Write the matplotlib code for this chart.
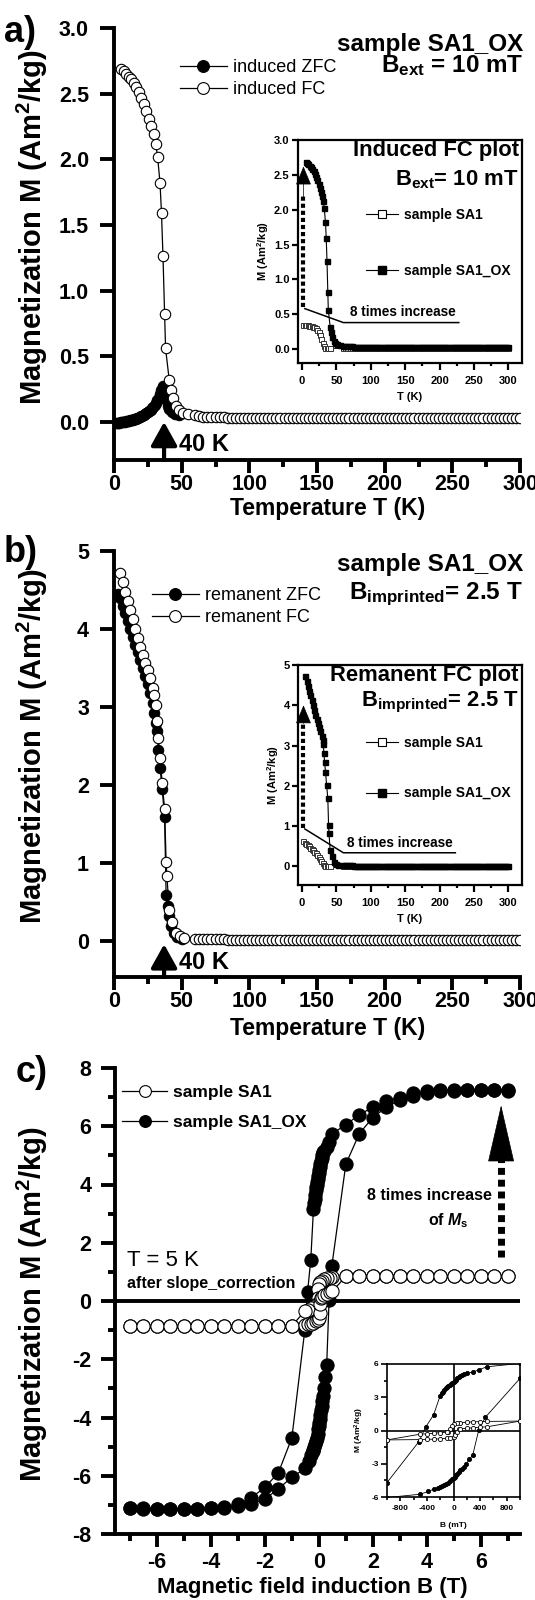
import matplotlib
matplotlib.use('Agg')
import matplotlib.pyplot as plt
from matplotlib.lines import Line2D
from matplotlib.ticker import MultipleLocator, FormatStrFormatter

plt.rcParams['font.family'] = ['Liberation Sans', 'DejaVu Sans']
plt.rcParams['font.weight'] = 'bold'
plt.rcParams['axes.labelweight'] = 'bold'
plt.rcParams['axes.unicode_minus'] = False
plt.rcParams['mathtext.fontset'] = 'custom'
plt.rcParams['mathtext.rm'] = 'Liberation Sans:bold'
plt.rcParams['mathtext.bf'] = 'Liberation Sans:bold'
plt.rcParams['mathtext.it'] = 'Liberation Sans:italic:bold'

# ---------------- common flat high-temperature grid ----------------
T_flat = [60, 63, 66, 69, 72, 75, 78, 81, 84, 87,
          90, 93, 96, 99, 102, 105, 108, 111, 114, 117,
          120, 123, 126, 129, 132, 135, 138, 141, 144, 147,
          150, 153, 156, 159, 162, 165, 168, 171, 174, 177,
          180, 183, 186, 189, 192, 195, 198, 201, 204, 207,
          210, 213, 216, 219, 222, 225, 228, 231, 234, 237,
          240, 243, 246, 249, 252, 255, 258, 261, 264, 267,
          270, 273, 276, 279, 282, 285, 288, 291, 294, 297,
          300]

# ---------------- panel a (induced, B_ext = 10 mT) ----------------
T_zfc_a = [1, 2, 3, 4, 5, 6, 7, 8, 9, 10,
           11, 12, 13, 14, 15, 16, 17, 18, 19, 20,
           21, 22, 23, 24, 25, 26, 27, 28, 29, 30,
           31, 32, 33, 34, 35, 36, 37, 38, 39, 40,
           41, 43, 45, 48]
M_zfc_a = [-0.01, -0.01, -0.008, -0.006, -0.004, -0.002, 0.0, 0.002, 0.004, 0.006,
           0.009, 0.012, 0.015, 0.018, 0.021, 0.025, 0.029, 0.033, 0.037, 0.042,
           0.047, 0.053, 0.059, 0.066, 0.074, 0.083, 0.093, 0.104, 0.117, 0.131,
           0.147, 0.165, 0.185, 0.21, 0.24, 0.275, 0.25, 0.2, 0.16, 0.12,
           0.1, 0.075, 0.06, 0.05]

T_fc_a_low = [5.5, 7.4, 9.2, 11, 12.9, 14.7, 16.6, 18.4, 20.2, 22.1,
              23.9, 25.8, 27.6, 29.4, 30.8, 32.2, 34, 35.1, 36.2, 37.4,
              38.1, 40.8, 42, 43.9, 46, 48, 51, 55]
M_fc_a_low = [2.69, 2.67, 2.65, 2.63, 2.61, 2.58, 2.55, 2.51, 2.47, 2.42,
              2.37, 2.31, 2.25, 2.19, 2.12, 2.02, 1.82, 1.59, 1.26, 0.82,
              0.56, 0.32, 0.24, 0.18, 0.12, 0.09, 0.07, 0.06]
M_fc_a_flat = [0.05, 0.045, 0.04, 0.04, 0.038, 0.036, 0.035, 0.034, 0.033, 0.032,
               0.03, 0.03, 0.03, 0.03, 0.03, 0.03, 0.03, 0.03, 0.03, 0.03,
               0.03, 0.03, 0.03, 0.03, 0.03, 0.03, 0.03, 0.03, 0.03, 0.03,
               0.03, 0.03, 0.03, 0.03, 0.03, 0.03, 0.03, 0.03, 0.03, 0.03,
               0.03, 0.03, 0.03, 0.03, 0.03, 0.03, 0.03, 0.03, 0.03, 0.03,
               0.03, 0.03, 0.03, 0.03, 0.03, 0.03, 0.03, 0.03, 0.03, 0.03,
               0.03, 0.03, 0.03, 0.03, 0.03, 0.03, 0.03, 0.03, 0.03, 0.03,
               0.03, 0.03, 0.03, 0.03, 0.03, 0.03, 0.03, 0.03, 0.03, 0.03,
               0.03]
T_fc_a = T_fc_a_low + T_flat
M_fc_a = M_fc_a_low + M_fc_a_flat

# insets: sample SA1
T_sa1_low = [2, 4, 6, 8, 10, 12, 14, 16, 18, 20,
             22, 24, 26, 28, 30, 32, 34, 36, 38, 40]
M_sa1_a_low = [0.34, 0.34, 0.34, 0.34, 0.335, 0.33, 0.325, 0.32, 0.31, 0.3,
               0.28, 0.25, 0.2, 0.14, 0.08, 0.04, 0.02, 0.015, 0.01, 0.01]
M_sa1_a_flat = [0.01, 0.01, 0.01, 0.01, 0.01, 0.01, 0.01, 0.01, 0.01, 0.01,
                0.01, 0.01, 0.01, 0.01, 0.01, 0.01, 0.01, 0.01, 0.01, 0.01,
                0.01, 0.01, 0.01, 0.01, 0.01, 0.01, 0.01, 0.01, 0.01, 0.01,
                0.01, 0.01, 0.01, 0.01, 0.01, 0.01, 0.01, 0.01, 0.01, 0.01,
                0.01, 0.01, 0.01, 0.01, 0.01, 0.01, 0.01, 0.01, 0.01, 0.01,
                0.01, 0.01, 0.01, 0.01, 0.01, 0.01, 0.01, 0.01, 0.01, 0.01,
                0.01, 0.01, 0.01, 0.01, 0.01, 0.01, 0.01, 0.01, 0.01, 0.01,
                0.01, 0.01, 0.01, 0.01, 0.01, 0.01, 0.01, 0.01, 0.01, 0.01,
                0.01]
M_sa1_b_low = [0.62, 0.59, 0.56, 0.53, 0.5, 0.47, 0.44, 0.41, 0.37, 0.33,
               0.29, 0.24, 0.19, 0.13, 0.08, 0.04, 0.02, 0.01, 0.0, 0.0]
M_sa1_b_flat = [0.0, 0.0, 0.0, 0.0, 0.0, 0.0, 0.0, 0.0, 0.0, 0.0,
                0.0, 0.0, 0.0, 0.0, 0.0, 0.0, 0.0, 0.0, 0.0, 0.0,
                0.0, 0.0, 0.0, 0.0, 0.0, 0.0, 0.0, 0.0, 0.0, 0.0,
                0.0, 0.0, 0.0, 0.0, 0.0, 0.0, 0.0, 0.0, 0.0, 0.0,
                0.0, 0.0, 0.0, 0.0, 0.0, 0.0, 0.0, 0.0, 0.0, 0.0,
                0.0, 0.0, 0.0, 0.0, 0.0, 0.0, 0.0, 0.0, 0.0, 0.0,
                0.0, 0.0, 0.0, 0.0, 0.0, 0.0, 0.0, 0.0, 0.0, 0.0,
                0.0, 0.0, 0.0, 0.0, 0.0, 0.0, 0.0, 0.0, 0.0, 0.0,
                0.0]
T_sa1 = T_sa1_low + T_flat
M_sa1_a = M_sa1_a_low + M_sa1_a_flat
M_sa1_b = M_sa1_b_low + M_sa1_b_flat

# ---------------- panel b (remanent, B_imprinted = 2.5 T) ----------------
T_zfc_b = [2.8, 4.6, 6.4, 8.3, 10.1, 12, 13.8, 15.6, 17.5, 19.3,
           21.2, 23, 24.8, 26.7, 28.5, 29.9, 30.8, 31.7, 32.8, 34,
           35.6, 37.4, 38.5, 39.6, 40.8, 42, 44.2, 46.9, 50.6]
M_zfc_b = [4.45, 4.4, 4.3, 4.2, 4.1, 4.0, 3.9, 3.8, 3.7, 3.6,
           3.5, 3.4, 3.3, 3.18, 3.05, 2.92, 2.8, 2.69, 2.45, 2.22,
           1.95, 1.59, 0.59, 0.45, 0.32, 0.2, 0.1, 0.05, 0.03]

T_fc_b_low = [4.6, 6.4, 8.3, 10.1, 12, 13.8, 15.6, 17.5, 19.3, 21.2,
              23, 24.8, 26.7, 28.5, 29.9, 30.8, 31.7, 32.7, 34, 35.6,
              37.4, 38.5, 39.1, 40.8, 43, 46, 48.8, 51.5]
M_fc_b_low = [4.72, 4.6, 4.48, 4.36, 4.25, 4.13, 4.0, 3.88, 3.77, 3.67,
              3.57, 3.47, 3.37, 3.25, 3.15, 3.03, 2.82, 2.6, 2.35, 2.03,
              1.69, 1.02, 0.83, 0.4, 0.25, 0.1, 0.06, 0.04]
M_fc_b_flat = [0.03, 0.028, 0.026, 0.025, 0.024, 0.023, 0.022, 0.021, 0.02, 0.02,
               0.02, 0.02, 0.02, 0.02, 0.02, 0.02, 0.02, 0.02, 0.02, 0.02,
               0.02, 0.02, 0.02, 0.02, 0.02, 0.02, 0.02, 0.02, 0.02, 0.02,
               0.02, 0.02, 0.02, 0.02, 0.02, 0.02, 0.02, 0.02, 0.02, 0.02,
               0.02, 0.02, 0.02, 0.02, 0.02, 0.02, 0.02, 0.02, 0.02, 0.02,
               0.02, 0.02, 0.02, 0.02, 0.02, 0.02, 0.02, 0.02, 0.02, 0.02,
               0.02, 0.02, 0.02, 0.02, 0.02, 0.02, 0.02, 0.02, 0.02, 0.02,
               0.02, 0.02, 0.02, 0.02, 0.02, 0.02, 0.02, 0.02, 0.02, 0.02,
               0.02]
T_fc_b = T_fc_b_low + T_flat
M_fc_b = M_fc_b_low + M_fc_b_flat

# ---------------- panel c (hysteresis at 5 K) ----------------
B_ox_down = [7.0, 6.5, 6.0, 5.5, 5.0, 4.5, 4.0, 3.5, 3.0, 2.5,
             2.0, 1.5, 1.0, 0.5, 0.38, 0.3, 0.2, 0.16, 0.13, 0.1,
             0.08, 0.06, 0.04, 0.02, 0.0, -0.02, -0.04, -0.06, -0.08, -0.1,
             -0.12, -0.14, -0.16, -0.18, -0.2, -0.3, -0.42, -0.52, -1.0, -1.5,
             -2.0, -2.5, -3.0, -3.5, -4.0, -4.5, -5.0, -5.5, -6.0, -6.5,
             -7.0]
M_ox_down = [7.22, 7.26, 7.26, 7.26, 7.26, 7.26, 7.2, 7.14, 6.98, 6.88,
             6.65, 6.4, 6.05, 5.75, 5.47, 5.3, 5.15, 5.1, 5.0, 4.9,
             4.8, 4.7, 4.6, 4.5, 4.4, 4.3, 4.2, 4.1, 4.0, 3.9,
             3.8, 3.65, 3.5, 3.35, 3.15, 1.4, 0.3, -1.0, -4.7, -5.9,
             -6.4, -6.75, -6.98, -7.06, -7.1, -7.14, -7.15, -7.15, -7.15, -7.12,
             -7.12]
B_ox_up = [-7.0, -6.5, -6.0, -5.5, -5.0, -4.5, -4.0, -3.5, -3.0, -2.5,
           -2.0, -1.5, -1.0, -0.5, -0.38, -0.3, -0.23, -0.2, -0.17, -0.14,
           -0.11, -0.08, -0.05, -0.02, 0.0, 0.02, 0.04, 0.06, 0.08, 0.1,
           0.13, 0.16, 0.19, 0.24, 0.29, 0.38, 0.48, 1.0, 1.5, 2.0,
           2.5, 3.0, 3.5, 4.0, 4.5, 5.0, 5.5, 6.0, 6.5, 7.0]
M_ox_up = [-7.12, -7.14, -7.14, -7.15, -7.15, -7.15, -7.12, -7.1, -7.05, -6.98,
           -6.8, -6.45, -6.05, -5.75, -5.5, -5.3, -5.15, -5.1, -5.0, -4.9,
           -4.8, -4.7, -4.55, -4.4, -4.3, -4.2, -4.05, -3.9, -3.75, -3.6,
           -3.45, -3.25, -3.0, -2.6, -2.2, 0.05, 1.2, 4.7, 5.75, 6.3,
           6.65, 6.9, 7.05, 7.15, 7.2, 7.22, 7.24, 7.25, 7.25, 7.25]

B_sa1_down = [7.0, 6.5, 6.0, 5.5, 5.0, 4.5, 4.0, 3.5, 3.0, 2.5,
              2.0, 1.5, 1.0, 0.5, 0.4, 0.3, 0.2, 0.1, 0.05, 0.0,
              -0.03, -0.05, -0.08, -0.1, -0.2, -0.3, -0.4, -0.5, -1.0, -1.5,
              -2.0, -2.5, -3.0, -3.5, -4.0, -4.5, -5.0, -5.5, -6.0, -6.5,
              -7.0]
M_sa1_down = [0.87, 0.87, 0.87, 0.87, 0.87, 0.87, 0.87, 0.87, 0.87, 0.87,
              0.87, 0.87, 0.85, 0.82, 0.8, 0.78, 0.75, 0.7, 0.66, 0.6,
              0.4, 0.1, -0.1, -0.15, -0.2, -0.25, -0.3, -0.33, -0.85, -0.87,
              -0.87, -0.87, -0.87, -0.87, -0.87, -0.87, -0.87, -0.87, -0.87, -0.87,
              -0.87]
B_sa1_up = [-7.0, -6.5, -6.0, -5.5, -5.0, -4.5, -4.0, -3.5, -3.0, -2.5,
            -2.0, -1.5, -1.0, -0.5, -0.4, -0.3, -0.2, -0.1, -0.05, 0.0,
            0.03, 0.05, 0.08, 0.1, 0.2, 0.3, 0.4, 0.5, 1.0, 1.5,
            2.0, 2.5, 3.0, 3.5, 4.0, 4.5, 5.0, 5.5, 6.0, 6.5,
            7.0]
M_sa1_up = [-0.87, -0.87, -0.87, -0.87, -0.87, -0.87, -0.87, -0.87, -0.87, -0.87,
            -0.87, -0.87, -0.85, -0.82, -0.8, -0.78, -0.75, -0.7, -0.66, -0.6,
            -0.4, -0.1, 0.1, 0.15, 0.2, 0.25, 0.3, 0.33, 0.85, 0.87,
            0.87, 0.87, 0.87, 0.87, 0.87, 0.87, 0.87, 0.87, 0.87, 0.87,
            0.87]

# ---------------- figure ----------------
W, H = 535, 1600
fig = plt.figure(figsize=(W / 100, H / 100), dpi=100)


def rect(l, t, r, b):
    return [l / W, 1 - b / H, (r - l) / W, (b - t) / H]


def fx(x):
    return x / W


def fy(y):
    return 1 - y / H


def style_main(ax, xpad=1.0, ypad=8):
    for s in ['top', 'right']:
        ax.spines[s].set_visible(False)
    for s in ['left', 'bottom']:
        ax.spines[s].set_linewidth(2.8)
    ax.tick_params(which='major', direction='out', width=2.8, labelsize=15.5)
    ax.tick_params(which='minor', direction='out', length=5, width=2.8)
    ax.tick_params(axis='x', which='major', length=9, pad=xpad)
    ax.tick_params(axis='y', which='major', length=10, pad=ypad)


def set_labels(ax, xl, xpos, yl, ypos, xsize=16.5, ysize=21):
    ax.set_xlabel(xl, fontsize=xsize)
    ax.xaxis.label.set_verticalalignment('center')
    ax.xaxis.set_label_coords(fx(xpos[0]), fy(xpos[1]),
                              transform=fig.transFigure)
    ax.set_ylabel(yl, fontsize=ysize)
    ax.yaxis.label.set_verticalalignment('center')
    ax.yaxis.set_label_coords(fx(ypos[0]), fy(ypos[1]),
                              transform=fig.transFigure)


def style_inset(ax, lw=1.6, size=8, xlen=5, xpad=4):
    for s in ax.spines.values():
        s.set_linewidth(lw)
    ax.tick_params(which='major', direction='out', width=lw, labelsize=size)
    ax.tick_params(axis='x', which='major', length=xlen, pad=xpad)
    ax.tick_params(axis='y', which='major', length=4, pad=2)
    ax.tick_params(which='minor', direction='out', length=2.5, width=lw)


circ_full = dict(color='k', lw=0.9, marker='o', mfc='k', mec='k', mew=0.8)
circ_open = dict(color='k', lw=0.9, marker='o', mfc='white', mec='k', mew=0.8)
arrow40 = dict(arrowstyle='-|>,head_length=0.72,head_width=0.4',
               mutation_scale=20, lw=3, color='k', shrinkA=0, shrinkB=0)
sq_open = dict(color='k', lw=0.7, marker='s', ms=3.6, mfc='white',
               mec='#333333', mew=0.7, zorder=3)
sq_full = dict(color='k', lw=0.8, marker='s', ms=3.6, mfc='k', mec='k',
               zorder=4)
head_small = dict(arrowstyle='-|>,head_length=1.2,head_width=0.5',
                  mutation_scale=10, lw=0.5, color='k', shrinkA=0, shrinkB=0)


def inset_legend(ax, y_top, spacing):
    ax.legend([Line2D([], [], color='k', lw=0.8, marker='s', ms=5.5,
                      mfc='white', mec='k', mew=0.8),
               Line2D([], [], color='k', lw=0.8, marker='s', ms=5.5,
                      mfc='k', mec='k')],
              ['sample SA1', 'sample SA1_OX'], loc='upper left',
              bbox_to_anchor=(fx(366), fy(y_top)),
              bbox_transform=fig.transFigure, frameon=False,
              prop={'size': 10}, handlelength=2.3, handletextpad=0.4,
              labelspacing=spacing, borderpad=0, borderaxespad=0)


def main_legend(ax, labels, handles, x, y_top, size, spacing, weight):
    ax.legend(handles, labels, loc='upper left',
              bbox_to_anchor=(fx(x), fy(y_top)),
              bbox_transform=fig.transFigure, frameon=False,
              prop={'size': size, 'weight': weight}, handlelength=2.6,
              handletextpad=0.35, labelspacing=spacing, borderpad=0,
              borderaxespad=0)


ylabel_txt = r'Magnetization M (Am$^2$/kg)'

# ================= panel a =================
ax = fig.add_axes(rect(114, 28, 520, 460))
style_main(ax)
ax.plot(T_zfc_a, M_zfc_a, ms=7.5, zorder=3, **circ_full)
ax.plot(T_fc_a, M_fc_a, ms=7.5, zorder=4, **circ_open)
ax.set_xlim(0, 300)
ax.set_ylim(-0.29, 3.0)
ax.xaxis.set_major_locator(MultipleLocator(50))
ax.xaxis.set_minor_locator(MultipleLocator(25))
ax.yaxis.set_major_locator(MultipleLocator(0.5))
ax.yaxis.set_major_formatter(FormatStrFormatter('%.1f'))
set_labels(ax, 'Temperature T (K)', (328, 508), ylabel_txt, (32, 227))
ax.annotate('', xy=(37, 0.0), xytext=(37, -0.29), arrowprops=arrow40)
ax.text(48, -0.175, '40 K', fontsize=17, va='center', ha='left')
main_legend(ax, ['induced ZFC', 'induced FC'],
            [Line2D([], [], ms=8.5, **circ_full),
             Line2D([], [], ms=8.5, **circ_open)],
            180, 59, 13, 0.3, 'normal')
fig.text(fx(523), fy(44), 'sample SA1_OX', fontsize=17.5, ha='right',
         va='center')
fig.text(fx(523), fy(66), r'B$_{\rm ext}$ = 10 mT', fontsize=17.5,
         ha='right', va='center')
fig.text(fx(4), fy(33), 'a)', fontsize=26, ha='left', va='center')

# inset a
ia = fig.add_axes(rect(298, 140, 522, 363))
style_inset(ia)
ia.plot(T_sa1, M_sa1_a, **sq_open)
ia.plot(T_fc_a, M_fc_a, **sq_full)
ia.set_xlim(-6, 320)
ia.set_ylim(-0.2, 3.0)
ia.xaxis.set_major_locator(MultipleLocator(50))
ia.xaxis.set_minor_locator(MultipleLocator(25))
ia.yaxis.set_major_locator(MultipleLocator(0.5))
ia.yaxis.set_major_formatter(FormatStrFormatter('%.1f'))
ia.set_xlabel('T (K)', fontsize=8, labelpad=5)
ia.set_ylabel(r'M (Am$^2$/kg)', fontsize=8, labelpad=2)
ia.plot([2, 2], [0.6, 2.2], color='k', lw=3, ls=(0, (1, 0.7)),
        dash_capstyle='butt', zorder=5)
ia.annotate('', xy=(2, 2.62), xytext=(2, 2.15), arrowprops=head_small,
            zorder=6)
ia.plot([4, 60, 228], [0.58, 0.38, 0.38], color='k', lw=1.1, zorder=5)
ia.text(146, 0.43, '8 times increase', fontsize=9.8, ha='center', va='bottom')
ia.text(0.985, 0.955, 'Induced FC plot', transform=ia.transAxes,
        fontsize=15.8, ha='right', va='center')
ia.text(0.985, 0.82, r'B$_{\rm ext}$= 10 mT', transform=ia.transAxes,
        fontsize=15.8, ha='right', va='center')
inset_legend(ia, 208, 3.0)

# ================= panel b =================
ax = fig.add_axes(rect(114, 551, 520, 977))
style_main(ax)
ax.plot(T_zfc_b, M_zfc_b, ms=7.5, zorder=3, **circ_full)
ax.plot(T_fc_b, M_fc_b, ms=7.5, zorder=4, **circ_open)
ax.set_xlim(0, 300)
ax.set_ylim(-0.46, 5.0)
ax.xaxis.set_major_locator(MultipleLocator(50))
ax.xaxis.set_minor_locator(MultipleLocator(25))
ax.yaxis.set_major_locator(MultipleLocator(1))
set_labels(ax, 'Temperature T (K)', (328, 1029), ylabel_txt, (32, 746))
ax.annotate('', xy=(37, -0.04), xytext=(37, -0.46), arrowprops=arrow40)
ax.text(48, -0.28, '40 K', fontsize=17, va='center', ha='left')
main_legend(ax, ['remanent ZFC', 'remanent FC'],
            [Line2D([], [], ms=8.5, **circ_full),
             Line2D([], [], ms=8.5, **circ_open)],
            152, 587, 13, 0.3, 'normal')
fig.text(fx(523), fy(565), 'sample SA1_OX', fontsize=17.5, ha='right',
         va='center')
fig.text(fx(523), fy(594), r'B$_{\rm imprinted}$= 2.5 T', fontsize=17.5,
         ha='right', va='center')
fig.text(fx(4), fy(553), 'b)', fontsize=26, ha='left', va='center')

# inset b
ib = fig.add_axes(rect(298, 665, 522, 885))
style_inset(ib)
ib.plot(T_sa1, M_sa1_b, **sq_open)
ib.plot(T_fc_b, M_fc_b, **sq_full)
ib.set_xlim(-6, 320)
ib.set_ylim(-0.46, 5.0)
ib.xaxis.set_major_locator(MultipleLocator(50))
ib.xaxis.set_minor_locator(MultipleLocator(25))
ib.yaxis.set_major_locator(MultipleLocator(1))
ib.set_xlabel('T (K)', fontsize=8, labelpad=5)
ib.set_ylabel(r'M (Am$^2$/kg)', fontsize=8, labelpad=2)
ib.plot([2, 2], [0.95, 3.6], color='k', lw=3, ls=(0, (1, 0.7)),
        dash_capstyle='butt', zorder=5)
ib.annotate('', xy=(2, 4.0), xytext=(2, 3.55), arrowprops=head_small,
            zorder=6)
ib.plot([4, 60, 223], [0.93, 0.34, 0.34], color='k', lw=1.1, zorder=5)
ib.text(142, 0.42, '8 times increase', fontsize=9.8, ha='center', va='bottom')
ib.text(0.985, 0.95, 'Remanent FC plot', transform=ib.transAxes,
        fontsize=15.8, ha='right', va='center')
ib.text(0.985, 0.83, r'B$_{\rm imprinted}$= 2.5 T', transform=ib.transAxes,
        fontsize=15.8, ha='right', va='center')
inset_legend(ib, 736, 2.62)

# ================= panel c =================
ax = fig.add_axes(rect(115, 1068, 520, 1534))
style_main(ax, xpad=4, ypad=7)
ax.axhline(0, color='k', lw=2.8, zorder=2)
ax.plot(B_ox_down, M_ox_down, ms=9.5, zorder=3, **circ_full)
ax.plot(B_ox_up, M_ox_up, ms=9.5, zorder=3, **circ_full)
ax.plot(B_sa1_down, M_sa1_down, ms=9.5, zorder=4, **circ_open)
ax.plot(B_sa1_up, M_sa1_up, ms=9.5, zorder=4, **circ_open)
ax.set_xlim(-7.55, 7.45)
ax.set_ylim(-8, 8)
ax.xaxis.set_major_locator(MultipleLocator(2))
ax.xaxis.set_minor_locator(MultipleLocator(1))
ax.yaxis.set_major_locator(MultipleLocator(2))
ax.yaxis.set_minor_locator(MultipleLocator(1))
set_labels(ax, 'Magnetic field induction B (T)', (312, 1588), ylabel_txt,
           (32, 1304), xsize=16)
ax.plot([6.75, 6.75], [1.52, 4.9], color='k', lw=5, ls=(0, (1, 0.7)),
        dash_capstyle='butt', zorder=5)
ax.annotate('', xy=(6.75, 6.72), xytext=(6.75, 4.86),
            arrowprops=dict(arrowstyle='-|>,head_length=3.9,head_width=0.9',
                            mutation_scale=10, lw=0.5, color='k',
                            shrinkA=0, shrinkB=0), zorder=6)
ax.text(4.1, 3.63, '8 times increase', fontsize=11.5, ha='center',
        va='center')
ax.text(4.8, 2.76, r'of $M_{\rm s}$', fontsize=11.5, ha='center', va='center')
ax.text(-7.1, 1.39, 'T = 5 K', fontsize=16, ha='left', va='center',
        fontweight='normal')
ax.text(-7.1, 0.6, 'after slope_correction', fontsize=11.5, ha='left',
        va='center')
main_legend(ax, ['sample SA1', 'sample SA1_OX'],
            [Line2D([], [], ms=8.5, **circ_open),
             Line2D([], [], ms=8.5, **circ_full)],
            122, 1085, 12.5, 0.85, 'bold')
fig.text(fx(16), fy(1072), 'c)', fontsize=26, ha='left', va='center')

# inset c (low-field part of the same loops, in mT)
ic = fig.add_axes(rect(387, 1364, 520, 1497))
style_inset(ic, lw=1.2, size=6, xlen=3, xpad=3)
ic.axhline(0, color='k', lw=1.2, zorder=2)
ic.axvline(0, color='k', lw=1.2, zorder=2)
for Bs, Ms, face in [(B_ox_down, M_ox_down, 'k'), (B_ox_up, M_ox_up, 'k'),
                     (B_sa1_down, M_sa1_down, 'white'),
                     (B_sa1_up, M_sa1_up, 'white')]:
    pts = [(b * 1000, m) for b, m in zip(Bs, Ms) if abs(b) <= 1.0]
    ic.plot([p[0] for p in pts], [p[1] for p in pts], color='k', lw=0.6,
            marker='o', ms=3, mfc=face, mec='k', mew=0.6,
            zorder=4 if face == 'white' else 3)
ic.set_xlim(-1000, 1000)
ic.set_ylim(-6, 6)
ic.set_xticks([-800, -400, 0, 400, 800])
ic.xaxis.set_minor_locator(MultipleLocator(200))
ic.yaxis.set_major_locator(MultipleLocator(3))
ic.yaxis.set_minor_locator(MultipleLocator(1.5))
ic.set_xlabel('B (mT)', fontsize=6, labelpad=7)
ic.set_ylabel(r'M (Am$^2$/kg)', fontsize=6, labelpad=4)

fig.savefig('out.png', dpi=100)
